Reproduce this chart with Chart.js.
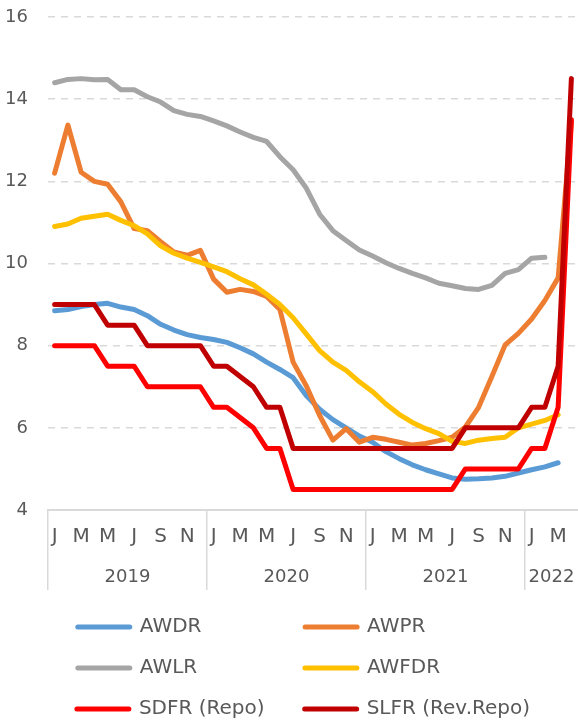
<!DOCTYPE html>
<html lang="en">
<head>
<meta charset="utf-8">
<title>Taux d'intérêt — Sri Lanka 2019-2022</title>
<script src="https://cdn.jsdelivr.net/npm/chart.js@4.4.1/dist/chart.umd.min.js"></script>
<style>
  html, body { margin: 0; padding: 0; background: #fff; }
  #wrap { width: 578px; height: 721px; }
</style>
</head>
<body>
<div id="wrap"><canvas id="rates" width="578" height="721"></canvas></div>
<script>
/* Monthly series, Jan 2019 -> Apr 2022 (40 points).
   Values read off the reference picture, so they are approximate. */

const years = ["2019", "2020", "2021", "2022"];
const monthsInYear = [12, 12, 12, 4];
const monthInitials = ["J","F","M","A","M","J","J","A","S","O","N","D"];

const awdr = [8.85, 8.88, 8.95, 9.0, 9.03, 8.94, 8.88, 8.73, 8.52, 8.38, 8.27, 8.2,
              8.15, 8.08, 7.95, 7.8, 7.6, 7.42, 7.22, 6.78, 6.45, 6.2, 6.0, 5.8,
              5.65, 5.42, 5.25, 5.1, 4.98, 4.88, 4.78, 4.75, 4.76, 4.78, 4.82, 4.9,
              4.98, 5.05, 5.15, null];
const awpr = [12.2, 13.37, 12.22, 12.0, 11.93, 11.5, 10.85, 10.8, 10.53, 10.28, 10.2, 10.32,
              9.62, 9.3, 9.37, 9.32, 9.2, 8.88, 7.6, 7.02, 6.3, 5.7, 5.98, 5.65,
              5.77, 5.72, 5.65, 5.58, 5.62, 5.69, 5.77, 6.02, 6.5, 7.25, 8.02, 8.3,
              8.65, 9.1, 9.65, 13.45];
const awlr = [14.4, 14.48, 14.5, 14.47, 14.48, 14.23, 14.23, 14.06, 13.93, 13.72, 13.63, 13.58,
              13.47, 13.35, 13.2, 13.07, 12.97, 12.6, 12.28, 11.83, 11.2, 10.8, 10.56, 10.33,
              10.18, 10.02, 9.88, 9.76, 9.65, 9.52, 9.46, 9.39, 9.37, 9.47, 9.76, 9.85,
              10.13, 10.15, null, null];
const awfdr = [10.9, 10.96, 11.1, 11.15, 11.2, 11.05, 10.92, 10.72, 10.43, 10.25, 10.13, 10.03,
               9.92, 9.8, 9.63, 9.48, 9.25, 9.0, 8.68, 8.28, 7.88, 7.6, 7.4, 7.12,
               6.88, 6.58, 6.33, 6.13, 5.98, 5.86, 5.67, 5.62, 5.7, 5.74, 5.77, 6.0,
               6.09, 6.18, 6.32, null];
const sdfr = [8.0, 8.0, 8.0, 8.0, 7.5, 7.5, 7.5, 7.0, 7.0, 7.0, 7.0, 7.0,
              6.5, 6.5, 6.25, 6.0, 5.5, 5.5, 4.5, 4.5, 4.5, 4.5, 4.5, 4.5,
              4.5, 4.5, 4.5, 4.5, 4.5, 4.5, 4.5, 5.0, 5.0, 5.0, 5.0, 5.0,
              5.5, 5.5, 6.5, 13.5];
const slfr = [9.0, 9.0, 9.0, 9.0, 8.5, 8.5, 8.5, 8.0, 8.0, 8.0, 8.0, 8.0,
              7.5, 7.5, 7.25, 7.0, 6.5, 6.5, 5.5, 5.5, 5.5, 5.5, 5.5, 5.5,
              5.5, 5.5, 5.5, 5.5, 5.5, 5.5, 5.5, 6.0, 6.0, 6.0, 6.0, 6.0,
              6.5, 6.5, 7.5, 14.5];

const seriesLabels = ["AWDR", "AWPR", "AWLR", "AWFDR", "SDFR (Repo)", "SLFR (Rev.Repo)"];
const seriesData = [awdr, awpr, awlr, awfdr, sdfr, slfr];
const seriesColors = ["#5B9BD5", "#ED7D31", "#A5A5A5", "#FFC000", "#FF0000", "#C00000"];

const FONT = "'DejaVu Sans', sans-serif";
const INK = "#595959";
const RULE = "#D9D9D9";
const NONE = "rgba(0,0,0,0)";

// category labels: one month initial per point
const categories = [];
monthsInYear.forEach(n => { for (let m = 0; m < n; m++) categories.push(monthInitials[m]); });

// year label sits in the middle of its months
const yearCenters = [];
let start = 0;
monthsInYear.forEach(n => { yearCenters.push(start + (n - 1) / 2); start += n; });

// legend is two aligned columns: pad the texts so every item of a column has the same width
const legendSize = 20;
const columnText = [146, 183];
function padLabel(text, width){
  const ctx = document.createElement("canvas").getContext("2d");
  ctx.font = legendSize + "px " + FONT;
  let out = text, guard = 0;
  while (ctx.measureText(out + " ").width <= width && guard++ < 200) out += " ";
  while (ctx.measureText(out + "\u200A").width <= width && guard++ < 400) out += "\u200A";
  return out;
}

const datasets = seriesLabels.map((label, i) => ({
  label,
  data: seriesData[i],
  borderColor: seriesColors[i],
  backgroundColor: seriesColors[i],
  borderWidth: 5,
  borderJoinStyle: "round",
  borderCapStyle: "round",
  pointRadius: 0,
  pointHoverRadius: 0,
  tension: 0,
  fill: false,
  spanGaps: false,
  order: seriesLabels.length - i,   // later series on top, as in the original
  xAxisID: "x",
  yAxisID: "y",
}));

new Chart(document.getElementById("rates"), {
  type: "line",
  data: { labels: categories, datasets },
  options: {
    responsive: false,
    animation: false,
    events: [],
    layout: { padding: { top: 17, left: 5, right: 0, bottom: -8 } },
    plugins: {
      tooltip: { enabled: false },
      legend: {
        position: "bottom",
        fullSize: false,
        align: "center",
        labels: {
          color: INK,
          font: { family: FONT, size: legendSize },
          padding: 21,
          usePointStyle: true,
          pointStyleWidth: 52,
          generateLabels(chart){
            return chart.data.datasets.map((ds, i) => ({
              text: padLabel(ds.label, columnText[i % 2]),
              fillStyle: ds.borderColor,
              strokeStyle: ds.borderColor,
              lineWidth: 5,
              lineCap: "round",
              pointStyle: "line",
              fontColor: INK,
              hidden: false,
              datasetIndex: i,
            }));
          },
        },
      },
    },
    scales: {
      x: {
        type: "category",
        offset: true,
        weight: 0,
        afterFit: s => { s.height = 39; },
        grid: {
          display: true,
          offset: true,
          drawOnChartArea: false,
          tickLength: 80,
          lineWidth: 1.5,
          color: ctx => (ctx.type === "tick" && ctx.index % 12 === 0) ? RULE : NONE,
        },
        border: { display: true, color: RULE, width: 2 },
        ticks: {
          autoSkip: false,
          maxRotation: 0,
          minRotation: 0,
          padding: -65,
          color: INK,
          font: { family: FONT, size: 20 },
          callback: (v, i) => (i % 2 === 0 ? categories[i] : ""),
        },
      },
      years: {
        type: "linear",
        axis: "x",
        position: "bottom",
        weight: 1,
        min: -0.5,
        max: categories.length - 0.5,
        afterBuildTicks: s => { s.ticks = yearCenters.map(v => ({ value: v })); },
        afterFit: s => { s.height = 47; },
        // hidden tick marks only push the labels down
        grid: { display: false, drawTicks: true, tickLength: 18 },
        border: { display: false },
        ticks: {
          autoSkip: false,
          maxRotation: 0,
          padding: 0,
          color: INK,
          font: { family: FONT, size: 18 },
          callback: v => years[yearCenters.indexOf(v)],
        },
      },
      y: {
        min: 4,
        max: 16,
        afterFit: s => { s.width = 43; },
        ticks: { stepSize: 2, padding: 0, color: INK, font: { family: FONT, size: 18 } },
        grid: {
          drawTicks: true,
          tickLength: 20,
          tickColor: NONE,
          lineWidth: 1.5,
          color: ctx => (ctx.tick && ctx.tick.value === 4) ? NONE : RULE,
        },
        border: { display: false, dash: [7, 6] },
      },
    },
  },
});
</script>
</body>
</html>
